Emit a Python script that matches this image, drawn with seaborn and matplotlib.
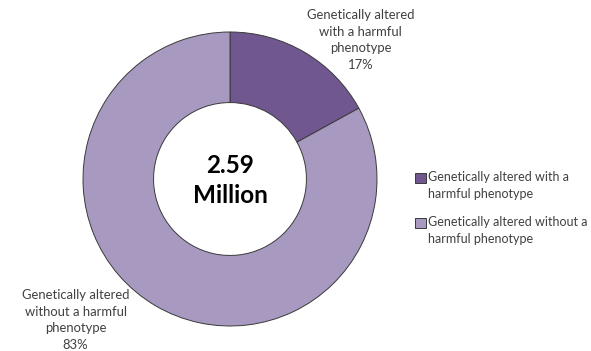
import matplotlib
matplotlib.use("Agg")
import matplotlib.pyplot as plt
from matplotlib.patches import Patch, Rectangle
from matplotlib.legend_handler import HandlerPatch
import seaborn as sns

categories = ["Genetically altered with a harmful phenotype",
              "Genetically altered without a harmful phenotype"]
slice_labels = ["Genetically altered\nwith a harmful\nphenotype",
                "Genetically altered\nwithout a harmful\nphenotype"]
shares = [17, 83]
total_label = "2.59\nMillion"
legend_labels = ["Genetically altered with a\nharmful phenotype",
                 "Genetically altered without a\nharmful phenotype"]

sns.set_theme(style="white")
plt.rcParams["font.family"] = ["Lato", "DejaVu Sans"]
colors = sns.color_palette(["#705790", "#a899c1"])
text_color = "#404040"

fig = plt.figure(figsize=(5.91, 3.51), dpi=100)
W, H = 591, 351
cx, cy, r = 230, 179, 147
ax = fig.add_axes([(cx - r) / W, (H - cy - r) / H, 2 * r / W, 2 * r / H])

wedges, _ = ax.pie(shares, colors=colors, startangle=90, counterclock=False,
                   radius=1.0,
                   wedgeprops=dict(width=0.48, edgecolor="#3a3a3a", linewidth=0.7))
ax.set_xlim(-1, 1)
ax.set_ylim(-1, 1)
ax.set_aspect("equal")
ax.axis("off")

# slice labels with percentages
ax.text(0.89, 0.945, f"{slice_labels[0]}\n{shares[0]}%", ha="center", va="center",
        fontsize=9.4, color=text_color, linespacing=1.45, clip_on=False)
ax.text(-1.05, -0.96, f"{slice_labels[1]}\n{shares[1]}%", ha="center", va="center",
        fontsize=9.4, color=text_color, linespacing=1.45, clip_on=False)

# total in the hole
ax.text(0, -0.01, total_label, ha="center", va="center", fontsize=17.5,
        fontweight="bold", color="black", linespacing=1.35)


def top_aligned_square(legend, orig_handle, xdescent, ydescent, width, height, fontsize):
    # raise the swatch so it sits beside the first line of a two-line label
    return Rectangle((-xdescent, -ydescent + 5.8), width, height)


handles = [Patch(facecolor=c, edgecolor="#3a3a3a", linewidth=0.7) for c in colors]
leg = fig.legend(handles, legend_labels, loc="upper left",
                 bbox_to_anchor=(415 / W, 1 - 171 / H), frameon=False,
                 borderpad=0, borderaxespad=0,
                 fontsize=9.0, labelcolor=text_color, handlelength=0.85,
                 handleheight=0.85, handletextpad=0.15, labelspacing=1.25,
                 handler_map={Patch: HandlerPatch(patch_func=top_aligned_square)})
for t in leg.get_texts():
    t.set_linespacing(1.5)

fig.savefig("out.png", dpi=100, facecolor="white")
